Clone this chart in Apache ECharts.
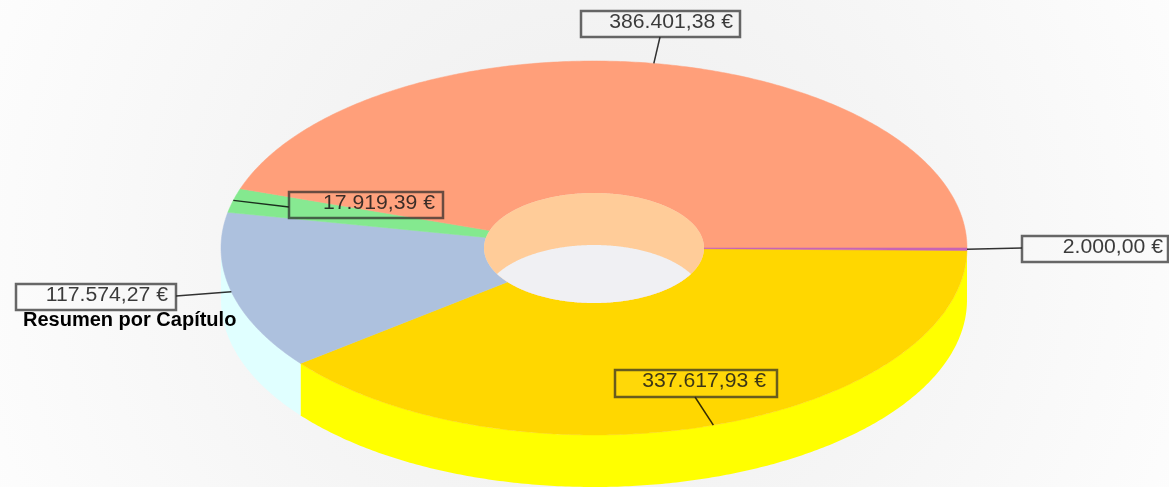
<!DOCTYPE html>
<html><head><meta charset="utf-8">
<style>html,body{margin:0;padding:0;overflow:hidden}#c{width:1169px;height:487px}</style>
<script src="https://cdn.jsdelivr.net/npm/echarts@6/dist/echarts.min.js"></script>
</head><body><div id="c"></div>
<script>
// Data, in drawing order (clockwise from the right-hand end of the ellipse)
const chapterValues = [337617.93, 117574.27, 17919.39, 386401.38, 2000.00];
const chartTitle = 'Resumen por Capítulo';

// Styles
const topColors  = ['#FFD700', '#ADC1DE', '#84E98F', '#FF9F7A', '#C864B4'];
const sideColors = ['#FFFF00', '#E0FFFF', '#84E98F', '#FF9F7A', '#C864B4'];

// Layout
const CX = 594, CY = 248, RX = 373, RY = 187, HRX = 110, HRY = 55, DEPTH = 52;
const START = 0.8 * Math.PI / 180;
const TEXT_STRETCH = 1.06;
const labelBoxes = [
  {x:615, y:370, w:162, h:27, textRight:766, lx:695,  ly:397},
  {x:16,  y:284, w:160, h:26, textRight:168, lx:176,  ly:296},
  {x:289, y:192, w:154, h:26, textRight:435, lx:289,  ly:207},
  {x:581, y:11,  w:159, h:26, textRight:733, lx:660,  ly:37},
  {x:1022,y:236, w:146, h:26, textRight:1163,lx:1022, ly:248}
];

const total = chapterValues.reduce((a, b) => a + b, 0);
const fmt = v => {
  const [i, d] = v.toFixed(2).split('.');
  return i.replace(/\B(?=(\d{3})+$)/g, '.') + ',' + d + ' €';
};
const spans = [];
chapterValues.reduce((acc, v) => {
  const next = acc + v / total * 2 * Math.PI;
  spans.push([acc, next]);
  return next;
}, START);

function arc(a, b, rx, ry, dy) {
  const n = Math.max(2, Math.ceil(Math.abs(b - a) / 0.01));
  const pts = [];
  for (let i = 0; i <= n; i++) {
    const t = a + (b - a) * i / n;
    pts.push([CX + rx * Math.cos(t), CY + dy + ry * Math.sin(t)]);
  }
  return pts;
}
const idx = chapterValues.map((v, i) => [i, v]);
const base = {type:'custom', coordinateSystem:'none', silent:true, animation:false, clip:false};

// Front wall (only the half facing the viewer)
const sideSeries = Object.assign({}, base, {
  name:'side', data:idx,
  renderItem(p) {
    const s = spans[p.dataIndex];
    const a = p.dataIndex === 0 ? 0 : s[0];
    const b = Math.min(s[1], Math.PI);
    if (a >= Math.PI) return {type:'group', children:[]};
    const pts = arc(a, b, RX, RY, 0).concat(arc(b, a, RX, RY, DEPTH));
    return {type:'polygon', shape:{points:pts}, style:{fill:sideColors[p.dataIndex]}};
  }
});
// Top face ring segments
const topSeries = Object.assign({}, base, {
  name:'top', data:idx,
  renderItem(p) {
    const [a, b] = spans[p.dataIndex];
    const pts = arc(a, b, RX, RY, 0).concat(arc(b, a, HRX, HRY, 0));
    const c = topColors[p.dataIndex];
    return {type:'polygon', shape:{points:pts}, style:{fill:c, stroke:c, lineWidth:0.5}};
  }
});
// Centre hole: inner wall plus the floor seen through it
const holeSeries = Object.assign({}, base, {
  name:'hole', data:[[0, 0]],
  renderItem() {
    const wall = arc(0, 2 * Math.PI, HRX, HRY, 0);
    const cross = Math.asin(DEPTH / 2 / HRY);
    const lens = arc(cross, Math.PI - cross, HRX, HRY, 0)
      .concat(arc(Math.PI + cross, 2 * Math.PI - cross, HRX, HRY, DEPTH));
    return {type:'group', children:[
      {type:'polygon', shape:{points:wall}, style:{fill:'#FFCC99'}},
      {type:'polygon', shape:{points:lens}, style:{fill:'#F0F0F3'}}
    ]};
  }
});
// Value labels with leader lines
const labelSeries = Object.assign({}, base, {
  name:'labels', data:idx,
  renderItem(p, api) {
    const i = p.dataIndex, [a, b] = spans[i], m = (a + b) / 2, box = labelBoxes[i];
    const ax = CX + RX * Math.cos(m), ay = CY + RY * Math.sin(m);
    const ink = 'rgba(40,40,40,0.7)';
    return {type:'group', children:[
      {type:'line', shape:{x1:ax, y1:ay, x2:box.lx, y2:box.ly}, style:{stroke:'rgba(0,0,0,0.8)', lineWidth:1.5}},
      {type:'rect', shape:{x:box.x, y:box.y, width:box.w, height:box.h},
        style:{fill:'rgba(255,255,255,0.03)', stroke:ink, lineWidth:2.5}},
      {type:'text', x:box.textRight, y:box.y + box.h / 2 - 2, scaleX:TEXT_STRETCH,
        style:{x:0, y:0, text:fmt(api.value(1)), align:'right', verticalAlign:'middle',
          fill:'rgba(25,25,25,0.85)', font:'20px "Liberation Sans", Arial, sans-serif'}}
    ]};
  }
});

const chart = echarts.init(document.getElementById('c'), null, {renderer:'canvas'});
chart.setOption({
  animation:false,
  backgroundColor:{type:'radial', x:0.5, y:0.5, r:1.35, colorStops:[
    {offset:0, color:'#EEEEEE'}, {offset:0.5, color:'#F5F5F5'}, {offset:1, color:'#FDFDFD'}]},
  title:{text:chartTitle, left:23, top:310, padding:0,
    textStyle:{fontFamily:'"Liberation Sans", Arial, sans-serif', fontSize:20, fontWeight:'bold', color:'#000'}},
  series:[sideSeries, topSeries, holeSeries, labelSeries]
});
</script></body></html>
